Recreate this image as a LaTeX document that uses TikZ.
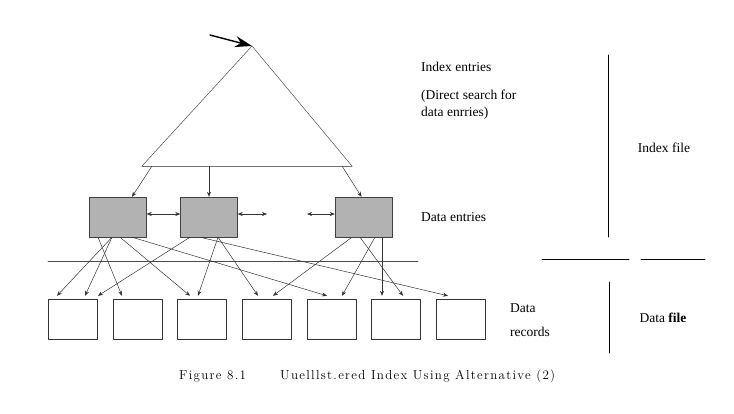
\documentclass[tikz,border=0pt]{standalone}
\usepackage{fontspec}
\usepackage{tikz}
\usetikzlibrary{arrows.meta, positioning, calc}
\setmainfont{Liberation Serif}
\newfontfamily\lmfont{Latin Modern Roman}
\tikzset{every node/.style={font=\fontsize{13.5}{17}\selectfont}, every path/.style={line cap=round, line join=round}, >={Stealth[length=5pt, width=4pt]}}

\begin{document}
\begin{tikzpicture}[
    x=1pt, y=-1pt,
    entry/.style={
        draw=black!75,
        fill=black!30,
        minimum width=57pt,
        minimum height=40pt,
        inner sep=0pt
    },
    record/.style={
        draw=black!80,
        minimum width=49pt,
        minimum height=40pt,
        inner sep=0pt
    },
    ptr/.style={
        ->,
        draw=black!80,
        line width=0.5pt
    },
    link/.style={
        <->,
        draw=black!80,
        line width=0.5pt
    },
    txt/.style={
        anchor=west,
        align=left,
        inner sep=0pt
    },
    rule/.style={
        line width=0.7pt
    },
    caption/.style={
        font=\lmfont\fontsize{13}{15}\selectfont\addfontfeatures{LetterSpace=10},
        anchor=west,
        inner sep=0pt
    }
]

\useasboundingbox (0,0) rectangle (734,413);

\coordinate (top) at (252,46);
\coordinate (bl) at (142,166);
\coordinate (br) at (352,166);
\coordinate (in) at (210,35);
\draw[black!70, line width=0.5pt] (bl) -- (top) -- (br);
\draw[black!55, line width=1pt] (bl) -- (br);
\draw[-{Stealth[length=17pt, width=11pt]}, line width=1.4pt] (in) -- (top);

\node[entry] (e1) at (118,217) {};
\node[entry] (e2) at (209,217) {};
\node[entry] (e3) at (363.5,217) {};

\coordinate (b1) at (152,166);
\coordinate (b2) at (209,166);
\coordinate (b3) at (342,166);
\draw[ptr] (b1) -- ([xshift=14pt]e1.north);
\draw[ptr] (b2) -- (e2.north);
\draw[ptr] (b3) -- ([xshift=-2pt]e3.north);

\coordinate (s2) at (267,214);
\coordinate (s3) at (307,214);
\draw[link] ([yshift=3pt]e1.east) -- ([yshift=3pt]e2.west);
\draw[link] ([yshift=3pt]e2.east) -- (s2);
\draw[link] (s3) -- ([yshift=3pt]e3.west);

\draw[black!70, line width=0.6pt] (48,261) -- (418,261);

\foreach \i/\x in {1/72.5, 2/137.5, 3/201.5, 4/266.5, 5/331.5, 6/395.5, 7/460.5}
    \node[record] (r\i) at (\x,319) {};

\draw[ptr] ([xshift=-6pt]e1.south) -- ([xshift=-15.5pt, yshift=3pt]r1.north);
\draw[ptr] ([xshift=-6pt]e1.south) -- ([xshift=12.5pt, yshift=3pt]r1.north);
\draw[ptr] ([xshift=-20pt]e1.south) -- ([xshift=-15.5pt, yshift=3pt]r2.north);
\draw[ptr] ([xshift=2pt]e1.south) -- ([xshift=-11.5pt, yshift=3pt]r3.north);
\draw[ptr] ([xshift=14pt]e1.south) -- ([xshift=-4.5pt, yshift=3pt]r5.north);

\draw[ptr] ([xshift=-19pt]e2.south) -- ([xshift=25.5pt, yshift=3pt]r1.north);
\draw[ptr] ([xshift=9pt]e2.south) -- ([xshift=-3.5pt, yshift=3pt]r3.north);
\draw[ptr] ([xshift=9pt]e2.south) -- ([xshift=-8.5pt, yshift=3pt]r4.north);
\draw[ptr] ([xshift=-9pt]e2.south) -- ([xshift=-12.5pt, yshift=3pt]r7.north);

\draw[ptr] ([xshift=-11.5pt]e3.south) -- ([xshift=6.5pt, yshift=3pt]r4.north);
\draw[ptr] ([xshift=11.5pt]e3.south) -- ([xshift=10.5pt, yshift=3pt]r5.north);
\draw[ptr] ([xshift=18.5pt]e3.south) -- ([xshift=-13.5pt, yshift=3pt]r6.north);
\draw[ptr] ([xshift=-3.5pt]e3.south) -- ([xshift=7.5pt, yshift=3pt]r6.north);

\node[txt] (ie) at (421,67) {Index entries};
\node[txt] (ds) at (421,105) {(Direct search for\\data enrries)};
\node[txt] (de) at (421,217) {Data entries};
\node[txt, font=\fontsize{13.5}{24}\selectfont] (dr) at (510,320) {Data\\records};
\node (ifile) at (664,148) {Index file};
\node (dfile) at (663,318) {Data \textbf{file}};

\draw[rule] (608,55) -- (608,237);
\draw[rule] (542,259) -- (629,259);
\draw[rule] (641,259) -- (705,259);
\draw[rule] (609,282) -- (609,353);

\node[caption] (fig) at (179,376) {Figure 8.1};
\node[caption] (title) at (280,376) {Uuelllst.ered Index Using Alternative (2)};

\end{tikzpicture}
\end{document}
